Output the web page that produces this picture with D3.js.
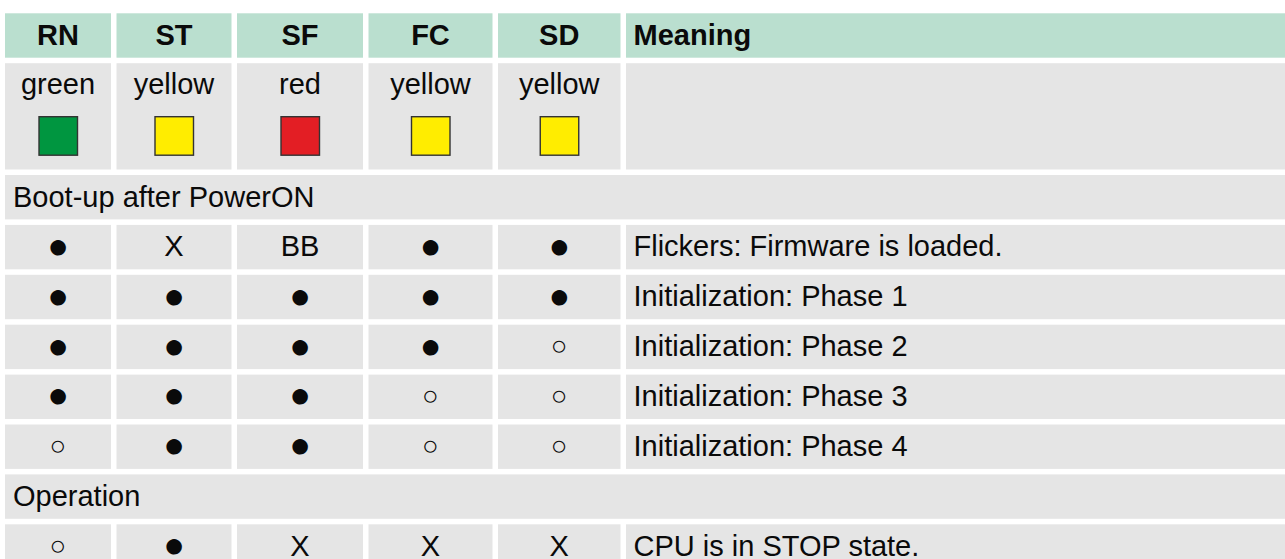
<!DOCTYPE html>
<html>
<head>
<meta charset="utf-8">
<script src="https://cdn.jsdelivr.net/npm/d3@7/dist/d3.min.js"></script>
<style>
  html, body { margin: 0; padding: 0; background: #ffffff; overflow: hidden; }
  svg { display: block; }
</style>
</head>
<body>
<div id="chart"></div>
<script>
// ---- data ----
const headers = ["RN", "ST", "SF", "FC", "SD", "Meaning"];
const ledNames = ["green", "yellow", "red", "yellow", "yellow"];
const ledFills = ["#009640", "#FFED00", "#E31E24", "#FFED00", "#FFED00"];
const section1 = "Boot-up after PowerON";
const section1Rows = [
  ["●", "X", "BB", "●", "●", "Flickers: Firmware is loaded."],
  ["●", "●", "●", "●", "●", "Initialization: Phase 1"],
  ["●", "●", "●", "●", "○", "Initialization: Phase 2"],
  ["●", "●", "●", "○", "○", "Initialization: Phase 3"],
  ["○", "●", "●", "○", "○", "Initialization: Phase 4"]
];
const section2 = "Operation";
const section2Rows = [
  ["○", "●", "X", "X", "X", "CPU is in STOP state."]
];

// ---- layout ----
const W = 1285, H = 559;
const colWidths = [106, 115, 126, 124, 122.5, 665];
const gap = 5.5;
const left0 = 5;
const top0 = 13.3;
const rowH = 44.4;
const ledRowH = 106.3;
const fs = 29;
const font = "'Liberation Sans', Arial, Helvetica, sans-serif";
const headerBg = "#BADFCF";
const cellBg = "#E5E5E5";
const textColor = "#0a0a0a";

const colX = [];
{ let x = left0; colWidths.forEach(w => { colX.push(x); x += w + gap; }); }

// build row list
const rows = [];
rows.push({ type: "header", cells: headers });
rows.push({ type: "led", cells: ledNames });
rows.push({ type: "section", text: section1 });
section1Rows.forEach(r => rows.push({ type: "data", cells: r }));
rows.push({ type: "section", text: section2 });
section2Rows.forEach(r => rows.push({ type: "data", cells: r }));

let y = top0;
rows.forEach(r => { r.h = r.type === "led" ? ledRowH : rowH; r.y = y; y += r.h + gap; });

const svg = d3.select("#chart").append("svg")
  .attr("width", W).attr("height", H)
  .attr("viewBox", `0 0 ${W} ${H}`);

const g = svg.append("g");

rows.forEach(r => {
  const rg = g.append("g").attr("class", "row-" + r.type);
  if (r.type === "section") {
    rg.append("rect").attr("x", left0).attr("y", r.y)
      .attr("width", W - left0 + 10).attr("height", r.h).attr("fill", cellBg);
    rg.append("text").attr("x", left0 + 8).attr("y", r.y + r.h / 2 + 9.5)
      .attr("font-family", font).attr("font-size", fs).attr("fill", textColor)
      .text(r.text);
    return;
  }
  const cells = r.type === "led" ? ledNames.concat([""]) : r.cells;
  const bg = r.type === "header" ? headerBg : cellBg;
  rg.selectAll("rect.cell").data(colWidths).join("rect")
    .attr("class", "cell")
    .attr("x", (d, i) => colX[i])
    .attr("y", r.y)
    .attr("width", (d, i) => i === colWidths.length - 1 ? W - colX[i] + 10 : d)
    .attr("height", r.h)
    .attr("fill", bg);

  cells.forEach((c, i) => {
    const isMeaning = i === headers.length - 1;
    const cx = isMeaning ? colX[i] + 7.5 : colX[i] + colWidths[i] / 2;
    if (r.type === "led") {
      if (isMeaning) return;
      rg.append("text").attr("x", cx).attr("y", r.y + 31)
        .attr("text-anchor", "middle")
        .attr("font-family", font).attr("font-size", fs).attr("fill", textColor)
        .text(c);
      rg.append("rect")
        .attr("x", cx - 19).attr("y", r.y + 53.5)
        .attr("width", 38.5).attr("height", 38.5)
        .attr("fill", ledFills[i]).attr("stroke", "#333333").attr("stroke-width", 1.4);
      return;
    }
    const isSym = c === "●" || c === "○";
    const t = rg.append("text")
      .attr("x", cx)
      .attr("text-anchor", isMeaning ? "start" : "middle")
      .attr("font-family", font)
      .attr("font-weight", r.type === "header" ? "bold" : "normal")
      .attr("fill", textColor)
      .text(c);
    if (isSym) {
      const sfs = c === "●" ? 36 : 28;
      t.attr("font-size", sfs).attr("y", r.y + r.h / 2 + 0.295 * sfs);
    } else {
      t.attr("font-size", fs).attr("y", r.y + r.h / 2 + 9.3);
    }
  });
});
</script>
</body>
</html>
